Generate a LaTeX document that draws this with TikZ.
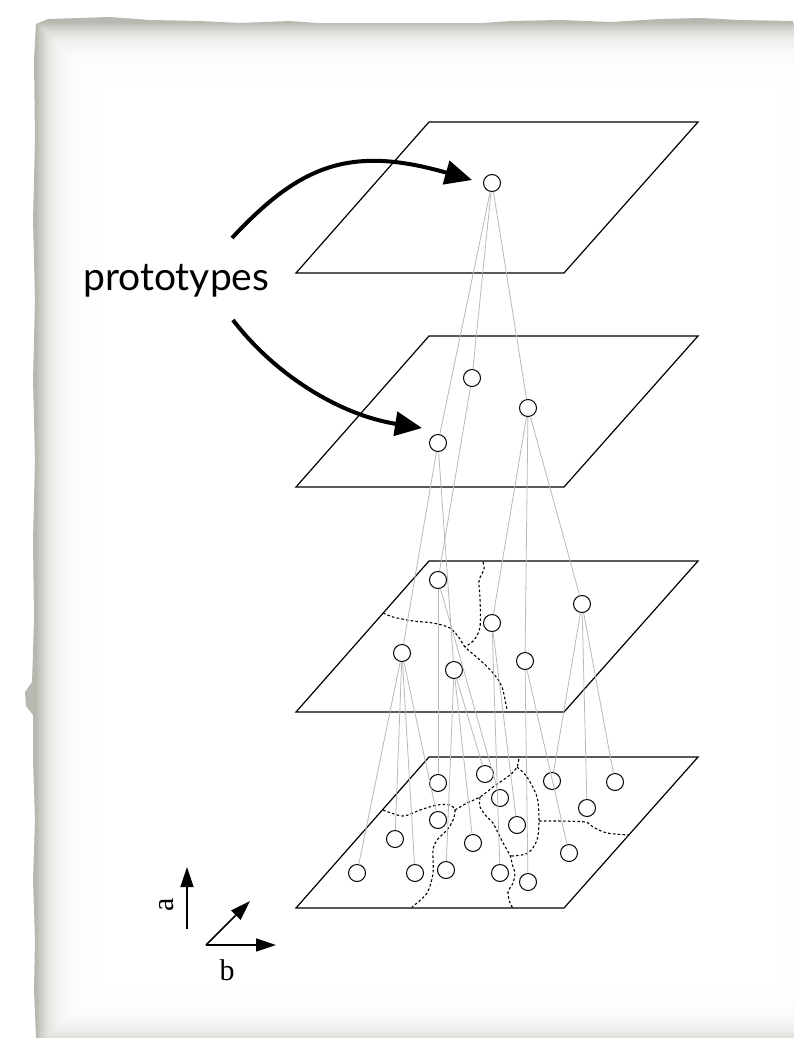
\documentclass[tikz,border=0pt]{standalone}
\usepackage{fontspec}
\setmainfont{Liberation Serif}
\newfontfamily\protofont{Lato}
\usetikzlibrary{arrows.meta}
\definecolor{sheet}{RGB}{184,184,176}

\begin{document}
\begin{tikzpicture}[x=1pt,y=-1pt,
plane/.style={draw,line width=1.2pt,line join=miter},
unit/.style={circle,draw,fill=white,line width=1pt,minimum size=17pt,inner sep=0pt},
link/.style={gray!55,line width=0.8pt},
border/.style={line width=1.1pt,dash pattern=on 2.6pt off 2.2pt},
proto/.style={line width=4pt,-{Triangle[length=27pt,width=24pt]}},
axis/.style={line width=1.6pt,-{Triangle[length=20pt,width=13pt]}}]
\useasboundingbox (0,0) rectangle (793,1038);
\fill[white] (0,0) rectangle (793,1038);
% torn sheet with soft inner shadow
\fill[sheet] (36,1038) -- (34,990) -- (35,940) -- (33,880) -- (35,820) -- (33,760) -- (33,715)
  -- (26,706) -- (25,692) -- (32,682) -- (34,620) -- (33,540) -- (35,460) -- (33,380) -- (35,300)
  -- (33,220) -- (35,140) -- (34,60) -- (36,24) -- (48,19) -- (80,18) -- (110,17) -- (150,20)
  -- (200,21) -- (240,23) -- (290,21) -- (330,24) -- (380,25) -- (430,23) -- (470,24) -- (510,21)
  -- (560,20) -- (610,22) -- (660,19) -- (700,18) -- (740,20) -- (793,21) -- (793,1038) -- cycle;
\foreach \i [evaluate=\i as \p using {100*0.925^\i}] in {1,...,62}
  \fill[sheet!\p!white] ({36+\i},{22+\i}) rectangle ({840-\i},{1048-\i});
\fill[white] (99,85) rectangle (777,985);

\foreach \t in {122,336,561,757}
  \draw[plane] (429,\t) -- (698,\t) -- (564,{\t+151}) -- (296,{\t+151}) -- cycle;

% cluster borders
\draw[border] plot[smooth] coordinates {(483,562) (484,569) (479,581) (480,598) (480,627) (474,640) (465,647)};
\draw[border] plot[smooth] coordinates {(383,613) (393,617) (413,621) (433,623) (450,628) (460,639) (465,647) (480,660) (493,673) (502,687) (507,710)};
\draw[border] plot[smooth] coordinates {(383,810) (403,816) (420,810) (437,805) (450,805) (455,810) (453,820) (447,830) (437,840) (433,850) (433,873) (427,893) (412,907)};
\draw[border] plot[smooth] coordinates {(455,810) (467,803) (480,797) (493,787) (510,775) (517,767) (519,758)};
\draw[border] plot[smooth] coordinates {(480,797) (480,807) (487,817) (493,823) (500,837) (507,850) (510,855) (513,867) (515,873) (513,883) (508,892) (510,903) (513,908)};
\draw[border] plot[smooth] coordinates {(517,767) (527,777) (537,797) (539,820) (537,840) (528,853) (513,856) (510,855)};
\draw[border] plot[smooth] coordinates {(539,821) (557,821) (585,822) (593,827) (607,833) (629,835)};

\node[unit] (u1) at (492,183) {};
\foreach \n/\x/\y in {v1/472/378,v2/528/408,v3/438/443,
  w1/438/580,w2/582/604,w3/492/623,w4/402/653,w5/525/661,w6/454/670,
  z1/357/873,z2/415/873,z3/446/870,z4/500/873,z5/528/882,z6/395/839,z7/473/843,z8/569/853,
  z9/438/820,z10/517/825,z11/587/808,z12/438/783,z13/485/774,z14/500/798,z15/552/781,z16/615/782}
  \node[unit] (\n) at (\x,\y) {};

\foreach \s/\t in {u1/v1,u1/v2,u1/v3,v1/w1,v2/w2,v2/w3,v2/w5,v3/w4,v3/w6,
  w1/z12,w1/z14,w2/z11,w2/z15,w2/z16,w3/z4,w3/z10,w4/z1,w4/z2,w4/z6,w4/z9,
  w5/z5,w5/z8,w6/z3,w6/z7,w6/z13}
  \draw[link] (\s) -- (\t);

\node[font=\protofont\fontsize{39}{44}\selectfont,anchor=base west,inner sep=0pt] (label) at (83,290) {prototypes};
\coordinate (up) at (232,238);
\coordinate (down) at (233,320);
\coordinate (tip1) at (472,180);
\coordinate (tip2) at (422,428);
\draw[proto] (up) .. controls (300,165) and (350,145) .. (tip1);
\draw[proto] (down) .. controls (275,375) and (340,415) .. (tip2);

\coordinate (o) at (206,945);
\coordinate (bx) at (276,945);
\coordinate (by) at (250,901);
\coordinate (a0) at (187,929);
\coordinate (a1) at (187,867);
\draw[axis] (o) -- (bx);
\draw[axis] (o) -- (by);
\draw[axis] (a0) -- (a1);
\node[font=\fontsize{30}{34}\selectfont,rotate=90] (alab) at (167,905) {a};
\node[font=\fontsize{30}{34}\selectfont] (blab) at (227,970) {b};
\end{tikzpicture}
\end{document}
